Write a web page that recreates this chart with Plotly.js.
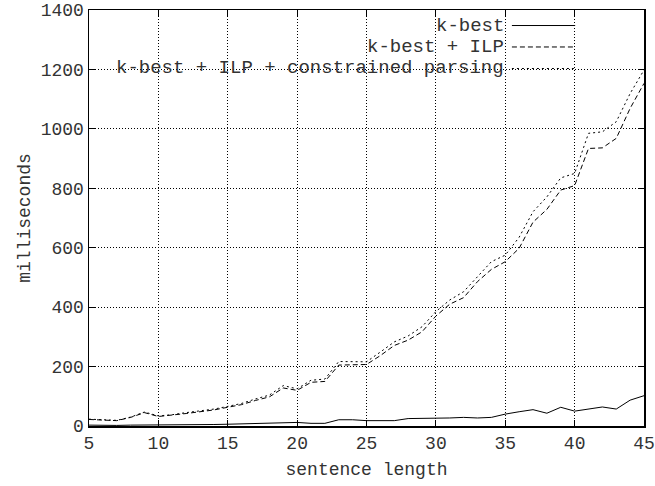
<!DOCTYPE html>
<html>
<head>
<meta charset="utf-8">
<script src="https://cdn.plot.ly/plotly-3.0.1.min.js"></script>
<style>html,body{margin:0;padding:0;background:#fff;}#chart{width:655px;height:486px;}</style>
</head>
<body>
<div id="chart"></div>
<script>
const sentenceLength = [5,6,7,8,9,10,11,12,13,14,15,16,17,18,19,20,21,22,23,24,25,26,27,28,29,30,31,32,33,34,35,36,37,38,39,40,41,42,43,44,45];
const kBest = [3,2,2,3,3,3,4,5,5,5,6,7,8,10,11,12,9,9,21,21,18,17,18,25,25,26,27,29,27,29,40,48,55,43,63,50,58,64,57,87,102];
const kBestILP = [22,19,18,29,45,32,36,42,48,54,63,72,86,98,128,120,147,150,205,206,207,237,271,289,317,370,410,432,486,527,553,598,686,729,794,809,934,936,968,1069,1153];
const kBestILPConstrained = [23,20,19,30,47,34,38,45,51,57,66,76,91,104,136,125,154,158,217,216,216,249,283,303,334,385,424,452,502,553,575,635,721,771,835,850,985,990,1024,1119,1198];
const seriesNames = ['k-best', 'k-best + ILP', 'k-best + ILP + constrained parsing'];
const xTitle = 'sentence length';
const yTitle = 'milliseconds';

const dashes = ['solid', '5px,3px', '2px,3px'];
const seriesY = [kBest, kBestILP, kBestILPConstrained];
const font = 'Liberation Mono, DejaVu Sans Mono, monospace';
const textColor = '#333';

const traces = seriesY.map((ys, i) => ({
  x: sentenceLength, y: ys, type: 'scatter', mode: 'lines', name: seriesNames[i],
  line: {color: '#000', width: 1, dash: dashes[i]}, showlegend: false, hoverinfo: 'skip'
}));

const rowY = [0.9627, 0.9111, 0.8594];
const annotations = seriesNames.map((n, i) => ({
  xref: 'paper', yref: 'paper', x: 0.7495, y: rowY[i], xanchor: 'right', yanchor: 'middle',
  text: n, showarrow: false, borderpad: 0, font: {family: font, size: 19, color: textColor}
}));
const shapes = [{
  type: 'rect', xref: 'paper', yref: 'paper', x0: 0.0198, x1: 0.894, y0: 0.839, y1: 0.986,
  fillcolor: '#fff', line: {width: 0}, layer: 'between'
}].concat(seriesNames.map((n, i) => ({
  type: 'line', xref: 'paper', yref: 'paper', x0: 0.762, x1: 0.876, y0: rowY[i], y1: rowY[i],
  line: {color: '#000', width: 1, dash: dashes[i]}, layer: 'above'
})));

const axisCommon = {
  showline: true, linecolor: '#000', linewidth: 1.5, mirror: 'allticks',
  ticks: 'inside', ticklen: 6, tickcolor: '#000', tickwidth: 1,
  showgrid: true, gridcolor: '#000', gridwidth: 1, griddash: '1px,2px',
  zeroline: false, tickfont: {family: font, size: 18, color: textColor}
};

const layout = {
  width: 655, height: 486,
  margin: {l: 89, r: 11, t: 10, b: 60},
  paper_bgcolor: '#fff', plot_bgcolor: '#fff',
  xaxis: Object.assign({}, axisCommon, {range: [5, 45], dtick: 5, tick0: 5,
    title: {text: xTitle, font: {family: font, size: 18, color: textColor}, standoff: 9}}),
  yaxis: Object.assign({}, axisCommon, {range: [0, 1400], dtick: 200,
    title: {text: yTitle, font: {family: font, size: 18, color: textColor}, standoff: 5}}),
  shapes: shapes, annotations: annotations, showlegend: false
};

Plotly.newPlot('chart', traces, layout, {displayModeBar: false, staticPlot: true});
</script>
</body>
</html>
